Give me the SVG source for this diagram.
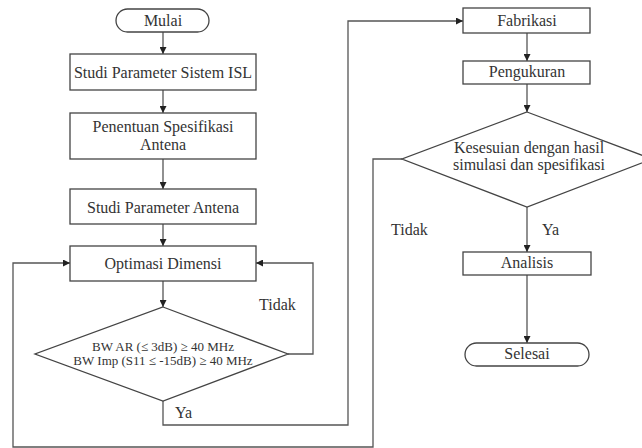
<svg xmlns="http://www.w3.org/2000/svg" width="642" height="448" viewBox="0 0 642 448">
<defs>
<marker id="arr" viewBox="0 0 10 10" refX="10" refY="5" markerWidth="7" markerHeight="7" markerUnits="userSpaceOnUse" orient="auto">
<path d="M0,0 L10,5 L0,10 z" fill="#222"/>
</marker>
<style>
.shape{fill:#fff;stroke:#444;stroke-width:1.3}
.ln{fill:none;stroke:#555;stroke-width:1.3}
.t{font-family:"Liberation Serif","Times New Roman",serif;font-size:16px;fill:#333;text-anchor:middle}
.s{font-family:"Liberation Serif","Times New Roman",serif;font-size:13px;fill:#333;text-anchor:middle}
.l{font-family:"Liberation Serif","Times New Roman",serif;font-size:16px;fill:#333}
</style>
</defs>
<rect width="642" height="448" fill="#fff"/>
<g id="connectors">
<path class="ln" d="M163,32 V54" marker-end="url(#arr)"/>
<path class="ln" d="M163,90 V113" marker-end="url(#arr)"/>
<path class="ln" d="M163,159 V189" marker-end="url(#arr)"/>
<path class="ln" d="M163,224 V246" marker-end="url(#arr)"/>
<path class="ln" d="M163,281 V307" marker-end="url(#arr)"/>
<path class="ln" d="M288,354 H313 V263 H256" marker-end="url(#arr)"/>
<path class="ln" d="M163,401 V425 H348 V21 H463" marker-end="url(#arr)"/>
<path class="ln" d="M527,33 V61" marker-end="url(#arr)"/>
<path class="ln" d="M527,84 V112" marker-end="url(#arr)"/>
<path class="ln" d="M402,159 H373 V447 H13 V263 H70" marker-end="url(#arr)"/>
<path class="ln" d="M527,207 V252" marker-end="url(#arr)"/>
<path class="ln" d="M527,275 V343" marker-end="url(#arr)"/>
<text class="l" x="259" y="310">Tidak</text>
<text class="l" x="175" y="418">Ya</text>
<text class="l" x="391" y="235">Tidak</text>
<text class="l" x="542" y="235">Ya</text>
</g>
<g id="mulai">
<rect class="shape" x="116" y="9" width="93" height="23" rx="11.5"/>
<text class="t" x="163" y="26">Mulai</text>
</g>
<g id="studi-isl">
<rect class="shape" x="70" y="54" width="186" height="36"/>
<text class="t" x="163" y="78">Studi Parameter Sistem ISL</text>
</g>
<g id="spesifikasi">
<rect class="shape" x="70" y="113" width="186" height="46"/>
<text class="t" x="163" y="132">Penentuan Spesifikasi</text>
<text class="t" x="163" y="150">Antena</text>
</g>
<g id="studi-antena">
<rect class="shape" x="70" y="189" width="186" height="35"/>
<text class="t" x="163" y="213">Studi Parameter Antena</text>
</g>
<g id="optimasi">
<rect class="shape" x="70" y="246" width="186" height="35"/>
<text class="t" x="163" y="269">Optimasi Dimensi</text>
</g>
<g id="cek-bw">
<polygon class="shape" points="163,307 288,354 163,401 35,354"/>
<text class="s" x="163" y="351">BW AR (≤ 3dB) ≥ 40 MHz</text>
<text class="s" x="163" y="365">BW Imp (S11 ≤ -15dB) ≥ 40 MHz</text>
</g>
<g id="fabrikasi">
<rect class="shape" x="463" y="8" width="127" height="25"/>
<text class="t" x="527" y="26">Fabrikasi</text>
</g>
<g id="pengukuran">
<rect class="shape" x="463" y="61" width="127" height="23"/>
<text class="t" x="527" y="77">Pengukuran</text>
</g>
<g id="kesesuian">
<polygon class="shape" points="527,112 652,159 527,207 402,159"/>
<text class="t" x="529" y="153">Kesesuian dengan hasil</text>
<text class="t" x="529" y="170">simulasi dan spesifikasi</text>
</g>
<g id="analisis">
<rect class="shape" x="463" y="252" width="128" height="23"/>
<text class="t" x="527" y="268">Analisis</text>
</g>
<g id="selesai">
<rect class="shape" x="465" y="343" width="124" height="23" rx="11.5"/>
<text class="t" x="527" y="359">Selesai</text>
</g>
</svg>
